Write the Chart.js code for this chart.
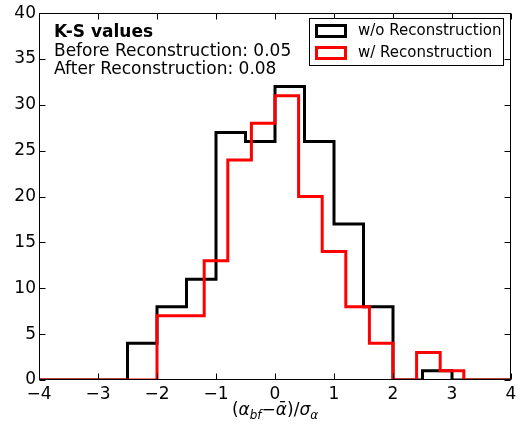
<!DOCTYPE html>
<html>
<head>
<meta charset="utf-8">
<script src="https://cdn.jsdelivr.net/npm/chart.js@4.4.1/dist/chart.umd.min.js"></script>
<style>
    html, body { margin: 0; padding: 0; background: #fff; }
</style>
</head>
<body>
<canvas id="histChart" width="528" height="427"></canvas>
<script>
const xTicks = [-4, -3, -2, -1, 0, 1, 2, 3, 4]
const yTicks = [0, 5, 10, 15, 20, 25, 30, 35, 40]

// bin edges + counts
const blackEdges = [-2.5, -2.0, -1.5, -1.0, -0.5, 0.0, 0.5, 1.0, 1.5, 2.0, 2.5, 3.0]
const blackCounts = [4, 8, 11, 27, 26, 32, 26, 17, 8, 0, 1]
const redEdges = [-2.0, -1.6, -1.2, -0.8, -0.4, 0.0, 0.4, 0.8, 1.2, 1.6, 2.0, 2.4, 2.8, 3.2]
const redCounts = [7, 7, 13, 24, 28, 31, 20, 14, 8, 4, 0, 3, 1]

const seriesNames = ['w/o Reconstruction', 'w/ Reconstruction']
const ksLines = ['K-S values', 'Before Reconstruction: 0.05', 'After Reconstruction: 0.08']

const FONT = 'DejaVu Sans'

function stepPoints(edges, counts) {
    let pts = [{ x: -4, y: 0 }]
    for (let i = 0; i < counts.length; i++) {
        pts.push({ x: edges[i], y: counts[i] })
    }
    pts.push({ x: edges[edges.length - 1], y: 0 })
    pts.push({ x: 4, y: 0 })
    return pts
}

function minus(v) {
    return v < 0 ? '\u2212' + Math.abs(v) : '' + v
}

const framePlugin = {
    id: 'frame',
    afterDatasetsDraw(chart) {
        const { ctx, chartArea: a, scales } = chart
        ctx.save()
        ctx.strokeStyle = '#000'
        ctx.lineWidth = 1
        const L = Math.round(a.left) + 0.5, R = Math.round(a.right) - 0.5
        const T = Math.round(a.top) + 0.5, B = Math.round(a.bottom) - 0.5
        ctx.strokeRect(L, T, R - L, B - T)
        ctx.beginPath()
        xTicks.forEach(v => {
            const px = Math.round(scales.x.getPixelForValue(v)) + 0.5
            ctx.moveTo(px, B); ctx.lineTo(px, B - 6)
            ctx.moveTo(px, T); ctx.lineTo(px, T + 6)
        })
        yTicks.forEach(v => {
            const py = Math.round(scales.y.getPixelForValue(v)) + 0.5
            ctx.moveTo(L, py); ctx.lineTo(L + 6, py)
            ctx.moveTo(R, py); ctx.lineTo(R - 6, py)
        })
        ctx.stroke()
        ctx.restore()
    },
    afterDraw(chart) {
        const { ctx, chartArea: a } = chart
        ctx.save()

        // K-S text block
        ctx.fillStyle = '#000'
        ctx.textBaseline = 'middle'
        ctx.textAlign = 'left'
        ctx.font = 'bold 17px ' + FONT
        ctx.fillText(ksLines[0], 54, 33)
        ctx.font = '17px ' + FONT
        ctx.fillText(ksLines[1], 54, 52)
        ctx.fillText(ksLines[2], 54, 70)

        // legend
        ctx.fillStyle = '#fff'
        ctx.fillRect(309, 18, 194, 47)
        ctx.strokeStyle = '#000'
        ctx.lineWidth = 1
        ctx.strokeRect(309.5, 18.5, 194, 47)
        const ds = chart.data.datasets
        const rows = [ds.find(d => d.label === seriesNames[0]), ds.find(d => d.label === seriesNames[1])]
        rows.forEach((d, i) => {
            const cy = 31 + i * 22
            ctx.strokeStyle = d.borderColor
            ctx.lineWidth = 3
            ctx.strokeRect(316.5, cy - 5.5, 29, 11)
            ctx.fillStyle = '#000'
            ctx.font = '15px ' + FONT
            ctx.fillText(d.label, 358, cy)
        })

        // x axis title with subscripts
        const parts = [
            ['(', '17px ' + FONT, 0],
            ['\u03b1', 'italic 17px ' + FONT, 0],
            ['bf', 'italic 12px ' + FONT, 4],
            ['\u2212', '17px ' + FONT, 0],
            ['\u1fb1', 'italic 17px ' + FONT, 0],
            [')/', '17px ' + FONT, 0],
            ['\u03c3', 'italic 17px ' + FONT, 0],
            ['\u03b1', 'italic 12px ' + FONT, 4],
        ]
        let total = 0
        parts.forEach(p => { ctx.font = p[1]; total += ctx.measureText(p[0]).width })
        let x = (a.left + a.right) / 2 - total / 2
        ctx.fillStyle = '#000'
        ctx.textBaseline = 'alphabetic'
        parts.forEach(p => {
            ctx.font = p[1]
            ctx.fillText(p[0], x, 415 + p[2])
            x += ctx.measureText(p[0]).width
        })
        ctx.restore()
    }
}

const ctx = document.getElementById('histChart')
new Chart(ctx, {
    type: 'scatter',
    data: {
        datasets: [
            {
                label: seriesNames[0],
                data: stepPoints(blackEdges, blackCounts),
                borderColor: '#000000',
                order: 2,
            },
            {
                label: seriesNames[1],
                data: stepPoints(redEdges, redCounts),
                borderColor: '#ff0000',
                order: 1,
            },
        ].map(d => Object.assign(d, {
            showLine: true,
            stepped: 'before',
            pointRadius: 0,
            pointHoverRadius: 0,
            borderWidth: 3,
            fill: false,
            borderJoinStyle: 'miter',
            borderCapStyle: 'butt',
        })),
    },
    options: {
        responsive: false,
        animation: false,
        devicePixelRatio: 1,
        layout: { padding: { top: 11, right: 17, left: 0, bottom: 0 } },
        plugins: {
            legend: { display: false },
            tooltip: { enabled: false },
        },
        scales: {
            x: {
                type: 'linear',
                min: -4,
                max: 4,
                afterFit: (s) => { s.height = 47 },
                afterBuildTicks: (s) => { s.ticks = xTicks.map(v => ({ value: v })) },
                grid: { display: false, drawTicks: false },
                border: { display: false },
                ticks: {
                    color: '#000',
                    font: { family: FONT, size: 17 },
                    padding: 4,
                    maxRotation: 0,
                    callback: (v) => minus(v),
                },
            },
            y: {
                min: 0,
                max: 40,
                afterFit: (s) => { s.width = 39 },
                afterBuildTicks: (s) => { s.ticks = yTicks.map(v => ({ value: v })) },
                grid: { display: false, drawTicks: false },
                border: { display: false },
                ticks: {
                    color: '#000',
                    font: { family: FONT, size: 17 },
                    padding: 3,
                    callback: (v) => minus(v),
                },
            },
        },
    },
    plugins: [framePlugin],
})
</script>
</body>
</html>
